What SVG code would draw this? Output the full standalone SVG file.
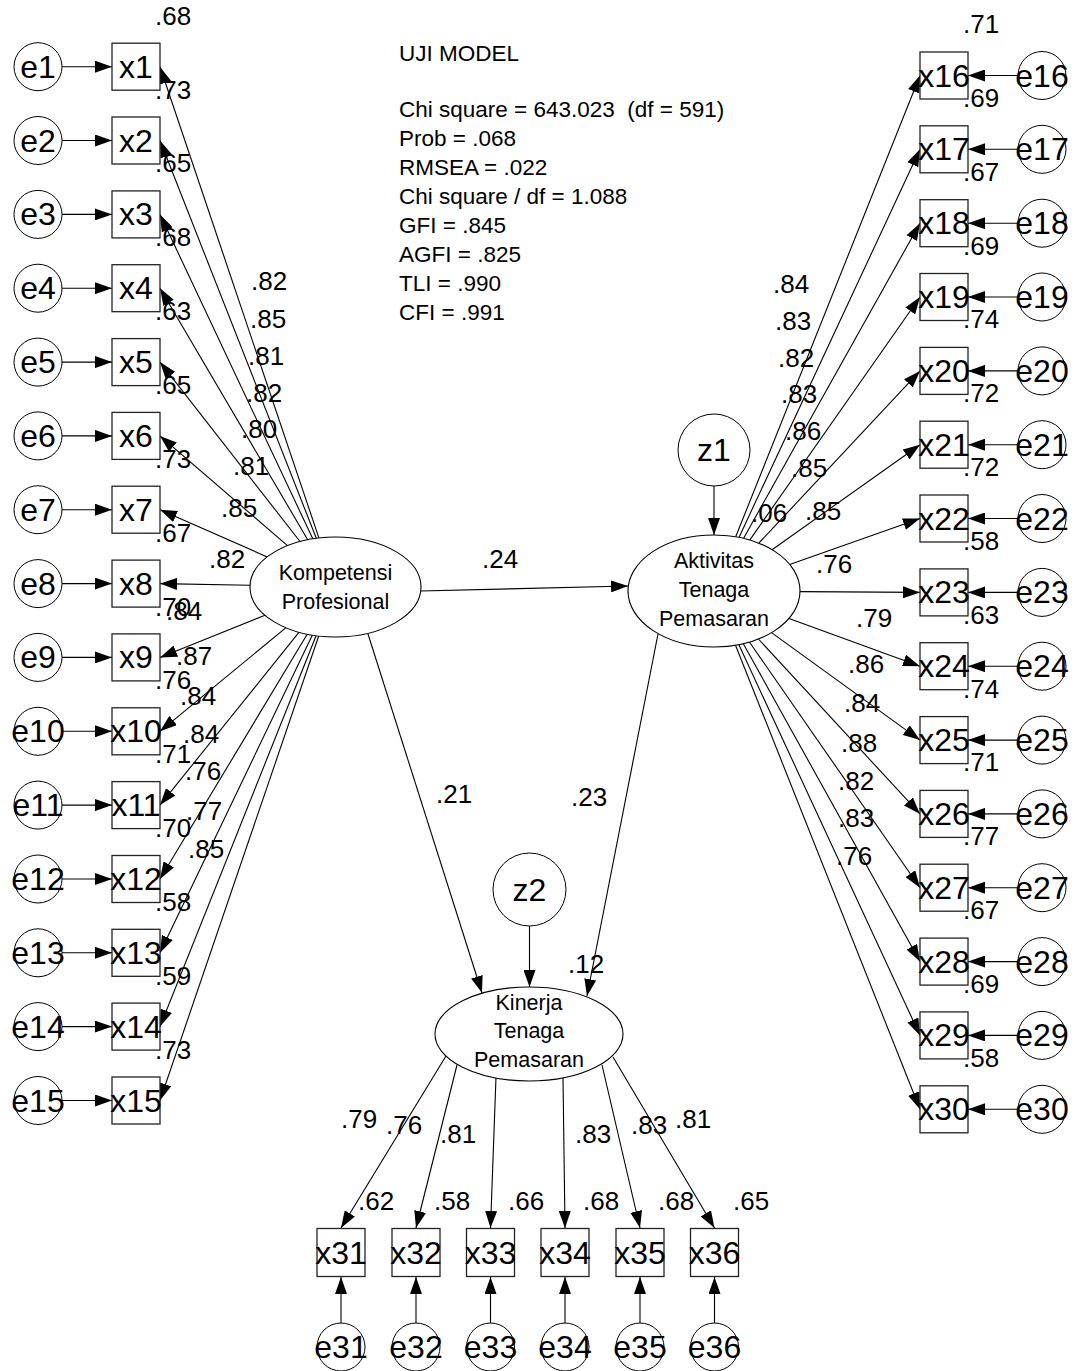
<svg xmlns="http://www.w3.org/2000/svg" width="1080" height="1371" viewBox="0 0 1080 1371">
<style>
text{font-family:"Liberation Sans",Arial,sans-serif;fill:#000}
.obs{fill:#fff;stroke:#222;stroke-width:1.3}
.err{fill:#fff;stroke:#000;stroke-width:1}
.lat{fill:#fff;stroke:#000;stroke-width:1.1}
.lbl{font-size:32px;text-anchor:middle}
.ll{font-size:21.5px;text-anchor:middle}
.num{font-size:26px}
.fit{font-size:22.5px;white-space:pre}
.c line{stroke:#000;stroke-width:1.1;marker-end:url(#ah)}
</style>
<defs>
<marker id="ah" viewBox="0 0 17 12" refX="17" refY="6" markerWidth="17" markerHeight="12" markerUnits="userSpaceOnUse" orient="auto"><path d="M0,0 L17,6 L0,12 z" fill="#000"/></marker>
</defs>
<rect width="1080" height="1371" fill="#fff"/>

<g id="fit">
<text class="fit" x="399" y="61">UJI MODEL</text>
<text class="fit" x="399" y="117">Chi square = 643.023  (df = 591)</text>
<text class="fit" x="399" y="146">Prob = .068</text>
<text class="fit" x="399" y="175">RMSEA = .022</text>
<text class="fit" x="399" y="204">Chi square / df = 1.088</text>
<text class="fit" x="399" y="233">GFI = .845</text>
<text class="fit" x="399" y="262">AGFI = .825</text>
<text class="fit" x="399" y="291">TLI = .990</text>
<text class="fit" x="399" y="320">CFI = .991</text>
</g>

<g id="connectors" class="c">
<line x1="62" y1="66.7" x2="112" y2="66.7"/>
<line x1="62" y1="140.5" x2="112" y2="140.5"/>
<line x1="62" y1="214.4" x2="112" y2="214.4"/>
<line x1="62" y1="288.2" x2="112" y2="288.2"/>
<line x1="62" y1="362.1" x2="112" y2="362.1"/>
<line x1="62" y1="435.9" x2="112" y2="435.9"/>
<line x1="62" y1="509.7" x2="112" y2="509.7"/>
<line x1="62" y1="583.6" x2="112" y2="583.6"/>
<line x1="62" y1="657.4" x2="112" y2="657.4"/>
<line x1="62" y1="731.3" x2="112" y2="731.3"/>
<line x1="62" y1="805.1" x2="112" y2="805.1"/>
<line x1="62" y1="879" x2="112" y2="879"/>
<line x1="62" y1="952.8" x2="112" y2="952.8"/>
<line x1="62" y1="1026.6" x2="112" y2="1026.6"/>
<line x1="62" y1="1100.5" x2="112" y2="1100.5"/>
<line x1="318.9" y1="537.9" x2="160" y2="66.7"/>
<line x1="316.3" y1="538.3" x2="160" y2="140.5"/>
<line x1="312.8" y1="538.8" x2="160" y2="214.4"/>
<line x1="307.7" y1="539.7" x2="160" y2="288.2"/>
<line x1="300" y1="541.5" x2="160" y2="362.1"/>
<line x1="287.5" y1="545.6" x2="160" y2="435.9"/>
<line x1="267.2" y1="556.9" x2="160" y2="509.7"/>
<line x1="250.1" y1="585.3" x2="160" y2="583.6"/>
<line x1="265" y1="615.3" x2="160" y2="657.4"/>
<line x1="286" y1="627.7" x2="160" y2="731.3"/>
<line x1="299.1" y1="632.2" x2="160" y2="805.1"/>
<line x1="307.2" y1="634.2" x2="160" y2="879"/>
<line x1="312.4" y1="635.1" x2="160" y2="952.8"/>
<line x1="316.1" y1="635.7" x2="160" y2="1026.6"/>
<line x1="318.7" y1="636" x2="160" y2="1100.5"/>
<line x1="1018" y1="75.5" x2="968" y2="75.5"/>
<line x1="1018" y1="149.3" x2="968" y2="149.3"/>
<line x1="1018" y1="223.2" x2="968" y2="223.2"/>
<line x1="1018" y1="297" x2="968" y2="297"/>
<line x1="1018" y1="370.9" x2="968" y2="370.9"/>
<line x1="1018" y1="444.7" x2="968" y2="444.7"/>
<line x1="1018" y1="518.5" x2="968" y2="518.5"/>
<line x1="1018" y1="592.4" x2="968" y2="592.4"/>
<line x1="1018" y1="666.2" x2="968" y2="666.2"/>
<line x1="1018" y1="740.1" x2="968" y2="740.1"/>
<line x1="1018" y1="813.9" x2="968" y2="813.9"/>
<line x1="1018" y1="887.7" x2="968" y2="887.7"/>
<line x1="1018" y1="961.6" x2="968" y2="961.6"/>
<line x1="1018" y1="1035.4" x2="968" y2="1035.4"/>
<line x1="1018" y1="1109.3" x2="968" y2="1109.3"/>
<line x1="735.7" y1="536.8" x2="920" y2="75.5"/>
<line x1="739" y1="537.4" x2="920" y2="149.3"/>
<line x1="743.5" y1="538.4" x2="920" y2="223.2"/>
<line x1="749.7" y1="540.1" x2="920" y2="297"/>
<line x1="758.8" y1="543.2" x2="920" y2="370.9"/>
<line x1="772.1" y1="549.7" x2="920" y2="444.7"/>
<line x1="789.7" y1="564.4" x2="920" y2="518.5"/>
<line x1="800" y1="591.6" x2="920" y2="592.4"/>
<line x1="789" y1="618.4" x2="920" y2="666.2"/>
<line x1="771.5" y1="632.6" x2="920" y2="740.1"/>
<line x1="758.4" y1="639" x2="920" y2="813.9"/>
<line x1="749.4" y1="642" x2="920" y2="887.7"/>
<line x1="743.3" y1="643.7" x2="920" y2="961.6"/>
<line x1="738.8" y1="644.6" x2="920" y2="1035.4"/>
<line x1="735.5" y1="645.2" x2="920" y2="1109.3"/>
<line x1="421" y1="591" x2="628" y2="586"/>
<line x1="368" y1="634" x2="482" y2="993"/>
<line x1="658" y1="634" x2="587" y2="996"/>
<line x1="714" y1="486" x2="714" y2="535"/>
<line x1="529.5" y1="926" x2="529.5" y2="987"/>
<line x1="446" y1="1056" x2="341" y2="1228"/>
<line x1="457" y1="1065" x2="416" y2="1228"/>
<line x1="496" y1="1077" x2="490.5" y2="1228"/>
<line x1="563" y1="1077" x2="565" y2="1228"/>
<line x1="602" y1="1065" x2="640" y2="1228"/>
<line x1="613" y1="1057" x2="714.5" y2="1228"/>
<line x1="341" y1="1323" x2="341" y2="1277"/>
<line x1="416" y1="1323" x2="416" y2="1277"/>
<line x1="490.5" y1="1323" x2="490.5" y2="1277"/>
<line x1="565" y1="1323" x2="565" y2="1277"/>
<line x1="640" y1="1323" x2="640" y2="1277"/>
<line x1="714.5" y1="1323" x2="714.5" y2="1277"/>
</g>

<g id="kompetensi"><ellipse class="lat" cx="335.5" cy="587" rx="85.5" ry="50"/><text class="ll" x="335.5" y="580">Kompetensi</text><text class="ll" x="335.5" y="609">Profesional</text></g>
<g id="aktivitas"><ellipse class="lat" cx="714" cy="591" rx="86" ry="56"/><text class="ll" x="714" y="568">Aktivitas</text><text class="ll" x="714" y="597">Tenaga</text><text class="ll" x="714" y="626">Pemasaran</text></g>
<g id="kinerja"><ellipse class="lat" cx="529" cy="1034" rx="94" ry="47"/><text class="ll" x="529" y="1010">Kinerja</text><text class="ll" x="529" y="1038">Tenaga</text><text class="ll" x="529" y="1067">Pemasaran</text></g>
<g id="z1"><circle class="err" cx="714" cy="450" r="36"/><text class="lbl" x="714" y="461">z1</text></g>
<g id="z2"><circle class="err" cx="529.5" cy="889.5" r="36.5"/><text class="lbl" x="529.5" y="901">z2</text></g>

<g id="x1"><rect class="obs" x="112" y="43.2" width="48" height="47"/><text class="lbl" x="136" y="77.7">x1</text></g>
<g id="x2"><rect class="obs" x="112" y="117" width="48" height="47"/><text class="lbl" x="136" y="151.5">x2</text></g>
<g id="x3"><rect class="obs" x="112" y="190.9" width="48" height="47"/><text class="lbl" x="136" y="225.4">x3</text></g>
<g id="x4"><rect class="obs" x="112" y="264.7" width="48" height="47"/><text class="lbl" x="136" y="299.2">x4</text></g>
<g id="x5"><rect class="obs" x="112" y="338.6" width="48" height="47"/><text class="lbl" x="136" y="373.1">x5</text></g>
<g id="x6"><rect class="obs" x="112" y="412.4" width="48" height="47"/><text class="lbl" x="136" y="446.9">x6</text></g>
<g id="x7"><rect class="obs" x="112" y="486.2" width="48" height="47"/><text class="lbl" x="136" y="520.7">x7</text></g>
<g id="x8"><rect class="obs" x="112" y="560.1" width="48" height="47"/><text class="lbl" x="136" y="594.6">x8</text></g>
<g id="x9"><rect class="obs" x="112" y="633.9" width="48" height="47"/><text class="lbl" x="136" y="668.4">x9</text></g>
<g id="x10"><rect class="obs" x="112" y="707.8" width="48" height="47"/><text class="lbl" x="136" y="742.3">x10</text></g>
<g id="x11"><rect class="obs" x="112" y="781.6" width="48" height="47"/><text class="lbl" x="136" y="816.1">x11</text></g>
<g id="x12"><rect class="obs" x="112" y="855.5" width="48" height="47"/><text class="lbl" x="136" y="890">x12</text></g>
<g id="x13"><rect class="obs" x="112" y="929.3" width="48" height="47"/><text class="lbl" x="136" y="963.8">x13</text></g>
<g id="x14"><rect class="obs" x="112" y="1003.1" width="48" height="47"/><text class="lbl" x="136" y="1037.6">x14</text></g>
<g id="x15"><rect class="obs" x="112" y="1077" width="48" height="47"/><text class="lbl" x="136" y="1111.5">x15</text></g>

<g id="e1"><circle class="err" cx="38" cy="66.7" r="24"/><text class="lbl" x="38" y="77.7">e1</text></g>
<g id="e2"><circle class="err" cx="38" cy="140.5" r="24"/><text class="lbl" x="38" y="151.5">e2</text></g>
<g id="e3"><circle class="err" cx="38" cy="214.4" r="24"/><text class="lbl" x="38" y="225.4">e3</text></g>
<g id="e4"><circle class="err" cx="38" cy="288.2" r="24"/><text class="lbl" x="38" y="299.2">e4</text></g>
<g id="e5"><circle class="err" cx="38" cy="362.1" r="24"/><text class="lbl" x="38" y="373.1">e5</text></g>
<g id="e6"><circle class="err" cx="38" cy="435.9" r="24"/><text class="lbl" x="38" y="446.9">e6</text></g>
<g id="e7"><circle class="err" cx="38" cy="509.7" r="24"/><text class="lbl" x="38" y="520.7">e7</text></g>
<g id="e8"><circle class="err" cx="38" cy="583.6" r="24"/><text class="lbl" x="38" y="594.6">e8</text></g>
<g id="e9"><circle class="err" cx="38" cy="657.4" r="24"/><text class="lbl" x="38" y="668.4">e9</text></g>
<g id="e10"><circle class="err" cx="38" cy="731.3" r="24"/><text class="lbl" x="38" y="742.3">e10</text></g>
<g id="e11"><circle class="err" cx="38" cy="805.1" r="24"/><text class="lbl" x="38" y="816.1">e11</text></g>
<g id="e12"><circle class="err" cx="38" cy="879" r="24"/><text class="lbl" x="38" y="890">e12</text></g>
<g id="e13"><circle class="err" cx="38" cy="952.8" r="24"/><text class="lbl" x="38" y="963.8">e13</text></g>
<g id="e14"><circle class="err" cx="38" cy="1026.6" r="24"/><text class="lbl" x="38" y="1037.6">e14</text></g>
<g id="e15"><circle class="err" cx="38" cy="1100.5" r="24"/><text class="lbl" x="38" y="1111.5">e15</text></g>

<g id="x16"><rect class="obs" x="920" y="52" width="48" height="47"/><text class="lbl" x="944" y="86.5">x16</text></g>
<g id="x17"><rect class="obs" x="920" y="125.8" width="48" height="47"/><text class="lbl" x="944" y="160.3">x17</text></g>
<g id="x18"><rect class="obs" x="920" y="199.7" width="48" height="47"/><text class="lbl" x="944" y="234.2">x18</text></g>
<g id="x19"><rect class="obs" x="920" y="273.5" width="48" height="47"/><text class="lbl" x="944" y="308">x19</text></g>
<g id="x20"><rect class="obs" x="920" y="347.4" width="48" height="47"/><text class="lbl" x="944" y="381.9">x20</text></g>
<g id="x21"><rect class="obs" x="920" y="421.2" width="48" height="47"/><text class="lbl" x="944" y="455.7">x21</text></g>
<g id="x22"><rect class="obs" x="920" y="495" width="48" height="47"/><text class="lbl" x="944" y="529.5">x22</text></g>
<g id="x23"><rect class="obs" x="920" y="568.9" width="48" height="47"/><text class="lbl" x="944" y="603.4">x23</text></g>
<g id="x24"><rect class="obs" x="920" y="642.7" width="48" height="47"/><text class="lbl" x="944" y="677.2">x24</text></g>
<g id="x25"><rect class="obs" x="920" y="716.6" width="48" height="47"/><text class="lbl" x="944" y="751.1">x25</text></g>
<g id="x26"><rect class="obs" x="920" y="790.4" width="48" height="47"/><text class="lbl" x="944" y="824.9">x26</text></g>
<g id="x27"><rect class="obs" x="920" y="864.2" width="48" height="47"/><text class="lbl" x="944" y="898.7">x27</text></g>
<g id="x28"><rect class="obs" x="920" y="938.1" width="48" height="47"/><text class="lbl" x="944" y="972.6">x28</text></g>
<g id="x29"><rect class="obs" x="920" y="1011.9" width="48" height="47"/><text class="lbl" x="944" y="1046.4">x29</text></g>
<g id="x30"><rect class="obs" x="920" y="1085.8" width="48" height="47"/><text class="lbl" x="944" y="1120.3">x30</text></g>

<g id="e16"><circle class="err" cx="1042" cy="75.5" r="24"/><text class="lbl" x="1042" y="86.5">e16</text></g>
<g id="e17"><circle class="err" cx="1042" cy="149.3" r="24"/><text class="lbl" x="1042" y="160.3">e17</text></g>
<g id="e18"><circle class="err" cx="1042" cy="223.2" r="24"/><text class="lbl" x="1042" y="234.2">e18</text></g>
<g id="e19"><circle class="err" cx="1042" cy="297" r="24"/><text class="lbl" x="1042" y="308">e19</text></g>
<g id="e20"><circle class="err" cx="1042" cy="370.9" r="24"/><text class="lbl" x="1042" y="381.9">e20</text></g>
<g id="e21"><circle class="err" cx="1042" cy="444.7" r="24"/><text class="lbl" x="1042" y="455.7">e21</text></g>
<g id="e22"><circle class="err" cx="1042" cy="518.5" r="24"/><text class="lbl" x="1042" y="529.5">e22</text></g>
<g id="e23"><circle class="err" cx="1042" cy="592.4" r="24"/><text class="lbl" x="1042" y="603.4">e23</text></g>
<g id="e24"><circle class="err" cx="1042" cy="666.2" r="24"/><text class="lbl" x="1042" y="677.2">e24</text></g>
<g id="e25"><circle class="err" cx="1042" cy="740.1" r="24"/><text class="lbl" x="1042" y="751.1">e25</text></g>
<g id="e26"><circle class="err" cx="1042" cy="813.9" r="24"/><text class="lbl" x="1042" y="824.9">e26</text></g>
<g id="e27"><circle class="err" cx="1042" cy="887.7" r="24"/><text class="lbl" x="1042" y="898.7">e27</text></g>
<g id="e28"><circle class="err" cx="1042" cy="961.6" r="24"/><text class="lbl" x="1042" y="972.6">e28</text></g>
<g id="e29"><circle class="err" cx="1042" cy="1035.4" r="24"/><text class="lbl" x="1042" y="1046.4">e29</text></g>
<g id="e30"><circle class="err" cx="1042" cy="1109.3" r="24"/><text class="lbl" x="1042" y="1120.3">e30</text></g>

<g id="x31"><rect class="obs" x="317" y="1228.5" width="48" height="48"/><text class="lbl" x="341" y="1263.5">x31</text></g>
<g id="x32"><rect class="obs" x="392" y="1228.5" width="48" height="48"/><text class="lbl" x="416" y="1263.5">x32</text></g>
<g id="x33"><rect class="obs" x="466.5" y="1228.5" width="48" height="48"/><text class="lbl" x="490.5" y="1263.5">x33</text></g>
<g id="x34"><rect class="obs" x="541" y="1228.5" width="48" height="48"/><text class="lbl" x="565" y="1263.5">x34</text></g>
<g id="x35"><rect class="obs" x="616" y="1228.5" width="48" height="48"/><text class="lbl" x="640" y="1263.5">x35</text></g>
<g id="x36"><rect class="obs" x="690.5" y="1228.5" width="48" height="48"/><text class="lbl" x="714.5" y="1263.5">x36</text></g>

<g id="e31"><circle class="err" cx="341" cy="1347" r="24"/><text class="lbl" x="341" y="1358">e31</text></g>
<g id="e32"><circle class="err" cx="416" cy="1347" r="24"/><text class="lbl" x="416" y="1358">e32</text></g>
<g id="e33"><circle class="err" cx="490.5" cy="1347" r="24"/><text class="lbl" x="490.5" y="1358">e33</text></g>
<g id="e34"><circle class="err" cx="565" cy="1347" r="24"/><text class="lbl" x="565" y="1358">e34</text></g>
<g id="e35"><circle class="err" cx="640" cy="1347" r="24"/><text class="lbl" x="640" y="1358">e35</text></g>
<g id="e36"><circle class="err" cx="714.5" cy="1347" r="24"/><text class="lbl" x="714.5" y="1358">e36</text></g>

<g id="estimates">
<text class="num" x="155" y="25">.68</text>
<text class="num" x="155" y="98.5">.73</text>
<text class="num" x="155" y="172.4">.65</text>
<text class="num" x="155" y="246.2">.68</text>
<text class="num" x="155" y="320.1">.63</text>
<text class="num" x="155" y="393.9">.65</text>
<text class="num" x="155" y="467.7">.73</text>
<text class="num" x="155" y="541.6">.67</text>
<text class="num" x="155" y="616">.70</text>
<text class="num" x="155" y="689.3">.76</text>
<text class="num" x="155" y="763.1">.71</text>
<text class="num" x="155" y="837">.70</text>
<text class="num" x="155" y="910.8">.58</text>
<text class="num" x="155" y="984.6">.59</text>
<text class="num" x="155" y="1058.5">.73</text>
<text class="num" x="251" y="290">.82</text>
<text class="num" x="250" y="328">.85</text>
<text class="num" x="248" y="365">.81</text>
<text class="num" x="246" y="402">.82</text>
<text class="num" x="241" y="438">.80</text>
<text class="num" x="233" y="475">.81</text>
<text class="num" x="221" y="517">.85</text>
<text class="num" x="209" y="568">.82</text>
<text class="num" x="166" y="620">.84</text>
<text class="num" x="176" y="665">.87</text>
<text class="num" x="180" y="705">.84</text>
<text class="num" x="183" y="743">.84</text>
<text class="num" x="185" y="780">.76</text>
<text class="num" x="186" y="820">.77</text>
<text class="num" x="188" y="858">.85</text>
<text class="num" x="963" y="33">.71</text>
<text class="num" x="963" y="106.8">.69</text>
<text class="num" x="963" y="180.7">.67</text>
<text class="num" x="963" y="254.5">.69</text>
<text class="num" x="963" y="328.4">.74</text>
<text class="num" x="963" y="402.2">.72</text>
<text class="num" x="963" y="476">.72</text>
<text class="num" x="963" y="549.9">.58</text>
<text class="num" x="963" y="623.7">.63</text>
<text class="num" x="963" y="697.6">.74</text>
<text class="num" x="963" y="771.4">.71</text>
<text class="num" x="963" y="845.2">.77</text>
<text class="num" x="963" y="919.1">.67</text>
<text class="num" x="963" y="992.9">.69</text>
<text class="num" x="963" y="1066.8">.58</text>
<text class="num" x="773" y="293">.84</text>
<text class="num" x="775" y="330">.83</text>
<text class="num" x="778" y="367">.82</text>
<text class="num" x="781" y="403">.83</text>
<text class="num" x="785" y="440">.86</text>
<text class="num" x="791" y="477">.85</text>
<text class="num" x="805" y="520">.85</text>
<text class="num" x="816" y="573">.76</text>
<text class="num" x="856" y="627">.79</text>
<text class="num" x="848" y="673">.86</text>
<text class="num" x="844" y="712">.84</text>
<text class="num" x="841" y="752">.88</text>
<text class="num" x="838" y="790">.82</text>
<text class="num" x="838" y="827">.83</text>
<text class="num" x="836" y="865">.76</text>
<text class="num" x="751" y="522">.06</text>
<text class="num" x="482" y="568">.24</text>
<text class="num" x="436" y="803">.21</text>
<text class="num" x="571" y="806">.23</text>
<text class="num" x="568" y="973">.12</text>
<text class="num" x="341" y="1128">.79</text>
<text class="num" x="386" y="1134">.76</text>
<text class="num" x="440" y="1143">.81</text>
<text class="num" x="575" y="1143">.83</text>
<text class="num" x="631" y="1134">.83</text>
<text class="num" x="675" y="1128">.81</text>
<text class="num" x="358" y="1210">.62</text>
<text class="num" x="434" y="1210">.58</text>
<text class="num" x="508" y="1210">.66</text>
<text class="num" x="583" y="1210">.68</text>
<text class="num" x="658" y="1210">.68</text>
<text class="num" x="733" y="1210">.65</text>
</g>
</svg>
